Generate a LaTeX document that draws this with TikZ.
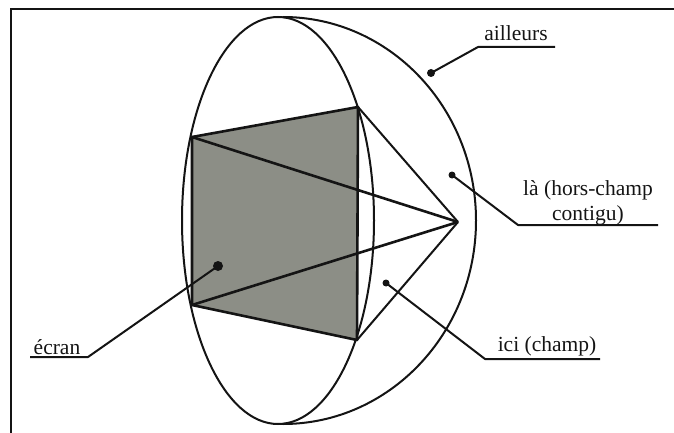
\documentclass[tikz,border=0pt]{standalone}
\usepackage{fontspec}
\setmainfont{Liberation Serif}
\usepackage{xcolor}
\usetikzlibrary{shapes.geometric, positioning}
\definecolor{sgrey}{RGB}{140,142,134}
\definecolor{sink}{RGB}{20,20,20}

\begin{document}
\begin{tikzpicture}[
  x=1pt,y=-1pt,
  font=\fontsize{21.5}{25}\selectfont,
  lbl/.style={align=center,text=sink,inner sep=0pt},
  dot/.style={circle,fill=sink,minimum size=8pt,inner sep=0pt},
  ln/.style={draw=sink,line width=2pt,line join=round},
  frm/.style={draw=sink,line width=2.2pt},
  scr/.style={draw=sink,fill=sgrey,line width=2.6pt,line join=round}
]
  \useasboundingbox (0,0) rectangle (674,433);
  \coordinate (fa) at (11,433);
  \coordinate (fb) at (11,9);
  \coordinate (fc) at (674,9);
  \draw[frm] (fa)--(fb)--(fc);

  \node[ellipse,ln,minimum width=192pt,minimum height=407pt,inner sep=0pt] (champ) at (278,220.5) {};
  \coordinate (top) at (283,17);
  \draw[ln] (top) arc[start angle=90,end angle=-90,x radius=193pt,y radius=203.5pt];

  \coordinate (tl) at (192,137);
  \coordinate (tr) at (358,107);
  \coordinate (br) at (357,340);
  \coordinate (bl) at (192,305);
  \coordinate (eye) at (458,222);
  \draw[scr] (tl)--(tr)--(br)--(bl)--cycle;
  \foreach \a in {tl,bl}
    \draw[ln,line width=2.6pt] (\a)--(eye);
  \foreach \a in {tr,br}
    \draw[ln] (\a)--(eye);

  \node[dot] (d1) at (431,73) {};
  \node[dot,minimum size=7pt] (d2) at (452,175) {};
  \node[dot,minimum size=7pt] (d3) at (386,283) {};
  \node[dot,minimum size=10pt] (d4) at (218,266) {};

  \coordinate (e1) at (478,47);  \coordinate (u1) at (555,47);
  \coordinate (e2) at (518,225); \coordinate (u2) at (658,225);
  \coordinate (e3) at (485,359); \coordinate (u3) at (600,359);
  \coordinate (e4) at (88,357);  \coordinate (u4) at (30,357);
  \foreach \a/\b/\c in {d1/e1/u1,d2/e2/u2,d3/e3/u3,d4/e4/u4}
    \draw[ln] (\a.center)--(\b)--(\c);

  \node[lbl] (ailleurs) at (516,33) {ailleurs};
  \node[lbl] (la) at (588,202.5) {là (hors-champ\\contigu)};
  \node[lbl] (ici) at (547,346) {ici (champ)};
  \node[lbl] (ecran) at (57,347) {écran};
\end{tikzpicture}
\end{document}
